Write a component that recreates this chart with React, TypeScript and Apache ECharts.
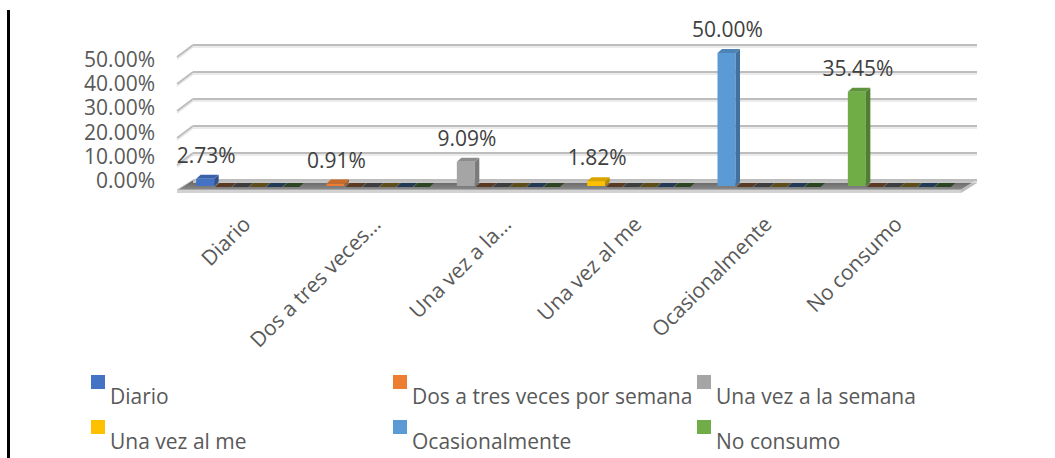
import React, { useEffect, useRef } from 'react';
import * as echarts from 'echarts';

// ---- data ----
const categories = [
  'Diario',
  'Dos a tres veces por semana',
  'Una vez a la semana',
  'Una vez al me',
  'Ocasionalmente',
  'No consumo',
];
const axisLabels = [
  'Diario',
  'Dos a tres veces…',
  'Una vez a la…',
  'Una vez al me',
  'Ocasionalmente',
  'No consumo',
];
const values = [0.0273, 0.0091, 0.0909, 0.0182, 0.5, 0.3545];
const yMin = 0;
const yMax = 0.5;
const yInterval = 0.1;

// ---- styles ----
const frontColors = ['#4472C4', '#ED7D31', '#A5A5A5', '#FFC000', '#5B9BD5', '#70AD47'];
const sideColors = ['#2F528F', '#AE5A21', '#7B7B7B', '#BC8C00', '#41719C', '#507E32'];
const topColors = ['#3A62A8', '#C96A29', '#8C8C8C', '#D9A300', '#4D84B5', '#5F933C'];
const stripColors = ['#5A3A22', '#3D3D3D', '#5C4D1A', '#233A55', '#2C4421'];
const FONT = "'Open Sans', sans-serif";
const FS = 21;

export default function App() {
  const ref = useRef<HTMLDivElement>(null);

  useEffect(() => {
    const chart = echarts.init(ref.current!, null, { renderer: 'svg' });

    const wall = { left: 193, top: 45, right: 977, bottom: 180 };
    const stub = { dx: 16, dy: 12 };
    const floorDepth = { dx: 16, dy: 10 };
    const tickVals: number[] = [];
    for (let v = yMin + yInterval; v <= yMax + 1e-9; v += yInterval) tickVals.push(v);
    const wallY = (v: number) => wall.bottom - ((v - yMin) / (yMax - yMin)) * (wall.bottom - wall.top);

    const legendPos = [
      [91, 375], [393, 375], [697, 375],
      [91, 420], [393, 420], [697, 420],
    ];
    // square at top of a tall icon box so the label sits lower than the square
    const legendIcon = 'path://M0,0H14V14H0Z M0,41.95H0.01V42H0Z';

    const graphics: any[] = [];
    // black vertical rule at left
    graphics.push({ type: 'rect', shape: { x: 7, y: 10, width: 3, height: 448 }, style: { fill: '#000' }, z: 0 });
    // left-wall stubs of gridlines
    tickVals.forEach((v) => {
      const y = wallY(v);
      graphics.push({
        type: 'line',
        shape: { x1: wall.left - stub.dx, y1: y + stub.dy + 2, x2: wall.left, y2: y + 2 },
        style: { stroke: '#e4e4e4', lineWidth: 1.5 },
        z: 0,
      });
      graphics.push({
        type: 'line',
        shape: { x1: wall.left - stub.dx, y1: y + stub.dy, x2: wall.left, y2: y },
        style: { stroke: '#bdbdbd', lineWidth: 2 },
        z: 0,
      });
    });
    // floor
    const fl = wall.left - floorDepth.dx;
    const fr = wall.right - floorDepth.dx;
    const fy = wall.bottom + floorDepth.dy;
    graphics.push({
      type: 'polygon',
      shape: { points: [[wall.left, wall.bottom], [wall.right, wall.bottom], [fr, fy], [fl, fy]] },
      style: {
        fill: new echarts.graphic.LinearGradient(0, 0, 0, 1, [
          { offset: 0, color: '#5e5e5e' },
          { offset: 1, color: '#8c8c8c' },
        ]),
        stroke: '#c4c4c4',
        lineWidth: 1,
      },
      z: 0,
    });
    graphics.push({
      type: 'polygon',
      shape: { points: [[fl, fy], [fr, fy], [fr, fy + 3], [fl, fy + 3]] },
      style: { fill: '#d2d2d2' },
      z: 0,
    });
    graphics.push({
      type: 'polygon',
      shape: { points: [[fr, fy], [wall.right, wall.bottom], [wall.right, wall.bottom + 3], [fr, fy + 3]] },
      style: { fill: '#bcbcbc' },
      z: 0,
    });

    const barSeries = categories.map((name, i) => ({
      type: 'custom',
      name,
      xAxisIndex: 2,
      yAxisIndex: 2,
      clip: false,
      z: 5,
      itemStyle: { color: frontColors[i] },
      data: [[i, values[i]]],
      renderItem: (_params: any, api: any) => {
        const cat = api.value(0);
        const v = api.value(1);
        const top = api.coord([cat, v]);
        const base = api.coord([cat, 0]);
        const cx = top[0];
        const fw = 18;
        const dx = 4.5;
        const dy = 4;
        const x0 = cx - 11;
        const x1 = x0 + fw;
        const yT = top[1];
        const yB = base[1];
        const children: any[] = [];
        stripColors.forEach((c, j) => {
          const sx = x1 + 1 + j * 17;
          children.push({
            type: 'polygon',
            shape: { points: [[sx, yB + 1], [sx + 16, yB + 1], [sx + 16 + dx, yB - dy + 1], [sx + dx, yB - dy + 1]] },
            style: { fill: c },
          });
        });
        children.push({
          type: 'rect',
          shape: { x: x0, y: yT, width: fw, height: Math.max(0, yB - yT) },
          style: { fill: frontColors[i] },
        });
        children.push({
          type: 'polygon',
          shape: { points: [[x1, yT], [x1 + dx, yT - dy], [x1 + dx, yB - dy], [x1, yB]] },
          style: { fill: sideColors[i] },
        });
        children.push({
          type: 'polygon',
          shape: { points: [[x0, yT], [x1, yT], [x1 + dx, yT - dy], [x0 + dx, yT - dy]] },
          style: { fill: topColors[i] },
        });
        children.push({
          type: 'text',
          style: {
            text: (v * 100).toFixed(2) + '%',
            x: cx - 1,
            y: yT - 24,
            align: 'center',
            verticalAlign: 'middle',
            fontSize: FS,
            lineHeight: 20,
            fontFamily: FONT,
            fill: '#404040',
          },
        });
        return { type: 'group', children };
      },
    }));

    const option: any = {
      animation: false,
      backgroundColor: '#ffffff',
      textStyle: { fontFamily: FONT },
      grid: [
        { left: wall.left, top: wall.top, width: wall.right - wall.left, height: wall.bottom - wall.top },
        { left: 160, top: 59, width: 100, height: 121 },
        { left: 142, top: 53, width: 782, height: 133 },
        { left: 181, top: 186, width: 782, height: 4 },
        { left: wall.left, top: wall.top + 2, width: wall.right - wall.left, height: wall.bottom - wall.top },
      ],
      xAxis: [
        {
          gridIndex: 0, type: 'category', data: categories,
          axisLine: { show: false }, axisTick: { show: false }, axisLabel: { show: false },
        },
        { gridIndex: 1, type: 'category', data: categories, show: false },
        { gridIndex: 2, type: 'category', data: categories, show: false },
        {
          gridIndex: 3,
          type: 'category',
          data: axisLabels,
          axisLine: { show: false },
          axisTick: { show: false },
          axisLabel: {
            rotate: 45,
            interval: 0,
            margin: 30,
            fontSize: FS,
            lineHeight: 20,
            fontFamily: FONT,
            color: '#595959',
          },
        },
        {
          gridIndex: 4, type: 'category', data: categories,
          axisLine: { show: false }, axisTick: { show: false }, axisLabel: { show: false },
        },
      ],
      yAxis: [
        {
          gridIndex: 0, type: 'value', min: yMin, max: yMax, interval: yInterval, z: 1,
          axisLabel: { show: false }, axisLine: { show: false }, axisTick: { show: false },
          splitLine: {
            show: true,
            lineStyle: { color: '#bdbdbd', width: 2 },
          },
        },
        {
          gridIndex: 1, type: 'value', min: yMin, max: yMax, interval: yInterval,
          axisLine: { show: false }, axisTick: { show: false }, splitLine: { show: false },
          axisLabel: {
            margin: 5,
            fontSize: FS,
            lineHeight: 20,
            fontFamily: FONT,
            color: '#595959',
            formatter: (v: number) => (v * 100).toFixed(2) + '%',
          },
        },
        { gridIndex: 2, type: 'value', min: yMin, max: yMax, interval: yInterval, show: false, splitLine: { show: false } },
        { gridIndex: 3, type: 'value', show: false, splitLine: { show: false } },
        {
          gridIndex: 4, type: 'value', min: yMin, max: yMax, interval: yInterval, z: 0,
          axisLabel: { show: false }, axisLine: { show: false }, axisTick: { show: false },
          splitLine: {
            show: true,
            lineStyle: { color: '#e4e4e4', width: 1.5 },
          },
        },
      ],
      legend: categories.map((name, i) => ({
        data: [name],
        left: legendPos[i][0],
        top: legendPos[i][1],
        orient: 'horizontal',
        padding: 0,
        itemGap: 0,
        itemWidth: 14,
        itemHeight: 42,
        icon: legendIcon,
        selectedMode: false,
        textStyle: {
          fontSize: FS,
          fontFamily: FONT,
          color: '#595959',
        },
      })),
      graphic: graphics,
      series: barSeries,
    };

    chart.setOption(option);
    return () => chart.dispose();
  }, []);

  return (
    <div
      ref={ref}
      style={{ position: 'fixed', left: 0, top: 0, width: 1055, height: 458, background: '#fff' }}
    />
  );
}
